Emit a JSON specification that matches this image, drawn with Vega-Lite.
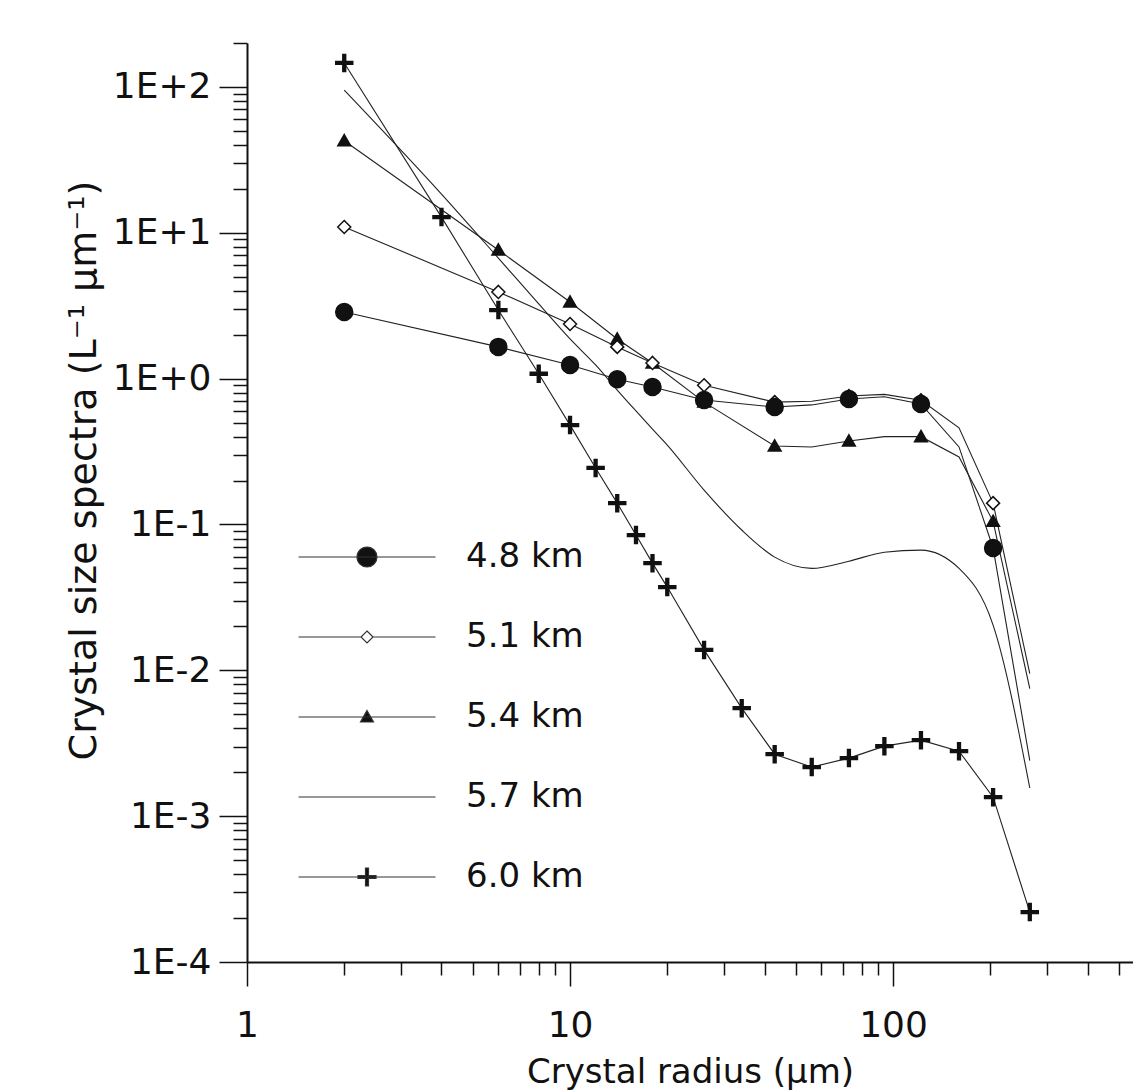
{
  "$schema": "https://vega.github.io/schema/vega-lite/v6.json",
  "width": 886,
  "height": 919,
  "autosize": "none",
  "padding": {"left": 247, "top": 43, "right": 0, "bottom": 129},
  "background": "white",
  "config": {"view": {"stroke": null}, "font": "DejaVu Sans"},
  "data": {
    "values": [
      {"series": "6.0 km", "r": 2, "n": 146, "marker": true},
      {"series": "6.0 km", "r": 4, "n": 12.8, "marker": true},
      {"series": "6.0 km", "r": 6, "n": 2.95, "marker": true},
      {"series": "6.0 km", "r": 8, "n": 1.08, "marker": true},
      {"series": "6.0 km", "r": 10, "n": 0.48, "marker": true},
      {"series": "6.0 km", "r": 12, "n": 0.244, "marker": true},
      {"series": "6.0 km", "r": 14, "n": 0.14, "marker": true},
      {"series": "6.0 km", "r": 16, "n": 0.0846, "marker": true},
      {"series": "6.0 km", "r": 18, "n": 0.0543, "marker": true},
      {"series": "6.0 km", "r": 20, "n": 0.0372, "marker": true},
      {"series": "6.0 km", "r": 26, "n": 0.0138, "marker": true},
      {"series": "6.0 km", "r": 34, "n": 0.0055, "marker": true},
      {"series": "6.0 km", "r": 43, "n": 0.00266, "marker": true},
      {"series": "6.0 km", "r": 56, "n": 0.00217, "marker": true},
      {"series": "6.0 km", "r": 73, "n": 0.0025, "marker": true},
      {"series": "6.0 km", "r": 94, "n": 0.00302, "marker": true},
      {"series": "6.0 km", "r": 122, "n": 0.00332, "marker": true},
      {"series": "6.0 km", "r": 160, "n": 0.00279, "marker": true},
      {"series": "6.0 km", "r": 204, "n": 0.00135, "marker": true},
      {"series": "6.0 km", "r": 265, "n": 0.00022, "marker": true},

      {"series": "5.7 km", "r": 2, "n": 95, "marker": false},
      {"series": "5.7 km", "r": 4, "n": 18.4, "marker": false},
      {"series": "5.7 km", "r": 6, "n": 6.7, "marker": false},
      {"series": "5.7 km", "r": 8, "n": 3.25, "marker": false},
      {"series": "5.7 km", "r": 10, "n": 1.87, "marker": false},
      {"series": "5.7 km", "r": 12, "n": 1.24, "marker": false},
      {"series": "5.7 km", "r": 14, "n": 0.835, "marker": false},
      {"series": "5.7 km", "r": 16, "n": 0.6, "marker": false},
      {"series": "5.7 km", "r": 18, "n": 0.45, "marker": false},
      {"series": "5.7 km", "r": 20, "n": 0.35, "marker": false},
      {"series": "5.7 km", "r": 26, "n": 0.172, "marker": false},
      {"series": "5.7 km", "r": 34, "n": 0.0916, "marker": false},
      {"series": "5.7 km", "r": 43, "n": 0.0597, "marker": false},
      {"series": "5.7 km", "r": 56, "n": 0.05, "marker": false},
      {"series": "5.7 km", "r": 73, "n": 0.056, "marker": false},
      {"series": "5.7 km", "r": 94, "n": 0.0645, "marker": false},
      {"series": "5.7 km", "r": 122, "n": 0.0667, "marker": false},
      {"series": "5.7 km", "r": 160, "n": 0.05, "marker": false},
      {"series": "5.7 km", "r": 204, "n": 0.0204, "marker": false},
      {"series": "5.7 km", "r": 265, "n": 0.00156, "marker": false},

      {"series": "5.4 km", "r": 2, "n": 42.7, "marker": true},
      {"series": "5.4 km", "r": 6, "n": 7.62, "marker": true},
      {"series": "5.4 km", "r": 10, "n": 3.35, "marker": true},
      {"series": "5.4 km", "r": 14, "n": 1.87, "marker": true},
      {"series": "5.4 km", "r": 18, "n": 1.28, "marker": true},
      {"series": "5.4 km", "r": 26, "n": 0.69, "marker": true},
      {"series": "5.4 km", "r": 43, "n": 0.345, "marker": true},
      {"series": "5.4 km", "r": 56, "n": 0.34, "marker": false},
      {"series": "5.4 km", "r": 73, "n": 0.373, "marker": true},
      {"series": "5.4 km", "r": 94, "n": 0.4, "marker": false},
      {"series": "5.4 km", "r": 122, "n": 0.4, "marker": true},
      {"series": "5.4 km", "r": 160, "n": 0.29, "marker": false},
      {"series": "5.4 km", "r": 204, "n": 0.105, "marker": true},
      {"series": "5.4 km", "r": 265, "n": 0.0075, "marker": false},

      {"series": "5.1 km", "r": 2, "n": 10.96, "marker": true},
      {"series": "5.1 km", "r": 6, "n": 3.93, "marker": true},
      {"series": "5.1 km", "r": 10, "n": 2.37, "marker": true},
      {"series": "5.1 km", "r": 14, "n": 1.65, "marker": true},
      {"series": "5.1 km", "r": 18, "n": 1.28, "marker": true},
      {"series": "5.1 km", "r": 26, "n": 0.9, "marker": true},
      {"series": "5.1 km", "r": 43, "n": 0.69, "marker": true},
      {"series": "5.1 km", "r": 56, "n": 0.7, "marker": false},
      {"series": "5.1 km", "r": 73, "n": 0.76, "marker": true},
      {"series": "5.1 km", "r": 94, "n": 0.78, "marker": false},
      {"series": "5.1 km", "r": 122, "n": 0.71, "marker": true},
      {"series": "5.1 km", "r": 160, "n": 0.46, "marker": false},
      {"series": "5.1 km", "r": 204, "n": 0.14, "marker": true},
      {"series": "5.1 km", "r": 265, "n": 0.0095, "marker": false},

      {"series": "4.8 km", "r": 2, "n": 2.86, "marker": true},
      {"series": "4.8 km", "r": 6, "n": 1.65, "marker": true},
      {"series": "4.8 km", "r": 10, "n": 1.24, "marker": true},
      {"series": "4.8 km", "r": 14, "n": 0.99, "marker": true},
      {"series": "4.8 km", "r": 18, "n": 0.875, "marker": true},
      {"series": "4.8 km", "r": 26, "n": 0.713, "marker": true},
      {"series": "4.8 km", "r": 43, "n": 0.638, "marker": true},
      {"series": "4.8 km", "r": 56, "n": 0.66, "marker": false},
      {"series": "4.8 km", "r": 73, "n": 0.724, "marker": true},
      {"series": "4.8 km", "r": 94, "n": 0.75, "marker": false},
      {"series": "4.8 km", "r": 122, "n": 0.67, "marker": true},
      {"series": "4.8 km", "r": 160, "n": 0.34, "marker": false},
      {"series": "4.8 km", "r": 204, "n": 0.069, "marker": true},
      {"series": "4.8 km", "r": 265, "n": 0.0024, "marker": false}
    ]
  },
  "encoding": {
    "x": {
      "field": "r",
      "type": "quantitative",
      "scale": {"type": "log", "domain": [1, 553], "nice": false},
      "axis": {
        "orient": "bottom",
        "title": "Crystal radius (μm)",
        "titleFontSize": 34,
        "titleFontWeight": "normal",
        "titleColor": "#111",
        "titleX": 443,
        "titleY": 127,
        "titleAlign": "center",
        "titleBaseline": "bottom",
        "values": [1,2,3,4,5,6,7,8,9,10,20,30,40,50,60,70,80,90,100,200,300,400,500],
        "grid": false,
        "domainColor": "#111",
        "domainWidth": 2,
        "tickColor": "#111",
        "tickWidth": 1.5,
        "tickSize": {"condition": {"test": "abs(log(datum.value)/LN10 - round(log(datum.value)/LN10)) < 1e-6", "value": 24}, "value": 13},
        "labelExpr": "abs(log(datum.value)/LN10 - round(log(datum.value)/LN10)) < 1e-6 ? format(datum.value, 'd') : ''",
        "labelFontSize": 36,
        "labelColor": "#111",
        "labelPadding": 22,
        "labelFlush": false,
        "labelOverlap": false
      }
    },
    "y": {
      "field": "n",
      "type": "quantitative",
      "scale": {"type": "log", "domain": [0.0001, 200], "nice": false},
      "axis": {
        "orient": "left",
        "title": "Crystal size spectra (L⁻¹ μm⁻¹)",
        "titleFontSize": 38,
        "titleFontWeight": "normal",
        "titleColor": "#111",
        "titleX": -163,
        "titleY": 427,
        "titleAngle": -90,
        "titleAlign": "center",
        "titleBaseline": "middle",
        "values": [0.0001,0.0002,0.0003,0.0004,0.0005,0.0006,0.0007,0.0008,0.0009,0.001,0.002,0.003,0.004,0.005,0.006,0.007,0.008,0.009,0.01,0.02,0.03,0.04,0.05,0.06,0.07,0.08,0.09,0.1,0.2,0.3,0.4,0.5,0.6,0.7,0.8,0.9,1,2,3,4,5,6,7,8,9,10,20,30,40,50,60,70,80,90,100,200],
        "grid": false,
        "domainColor": "#111",
        "domainWidth": 2,
        "tickColor": "#111",
        "tickWidth": 1.5,
        "tickSize": {"condition": {"test": "abs(log(datum.value)/LN10 - round(log(datum.value)/LN10)) < 1e-6", "value": 28}, "value": 14},
        "labelExpr": "abs(log(datum.value)/LN10 - round(log(datum.value)/LN10)) < 1e-6 ? '1E' + (round(log(datum.value)/LN10) >= 0 ? '+' : '-') + abs(round(log(datum.value)/LN10)) : ''",
        "labelFontSize": 36,
        "labelColor": "#111",
        "labelPadding": 8,
        "labelFlush": false,
        "labelOverlap": false
      }
    }
  },
  "layer": [
    {
      "transform": [{"filter": "datum.series != '5.7 km'"}],
      "mark": {"type": "line", "interpolate": "linear", "stroke": "#222", "strokeWidth": 1.1},
      "encoding": {"detail": {"field": "series"}}
    },
    {
      "transform": [{"filter": "datum.series == '5.7 km'"}],
      "mark": {"type": "line", "interpolate": "monotone", "stroke": "#222", "strokeWidth": 1.1},
      "encoding": {"detail": {"field": "series"}}
    },
    {
      "transform": [{"filter": "datum.marker"}],
      "mark": {"type": "point", "filled": true, "stroke": "#111", "strokeWidth": 1.5, "size": 400, "opacity": 1},
      "encoding": {
        "shape": {
          "field": "series",
          "type": "nominal",
          "scale": {
            "domain": ["4.8 km", "5.1 km", "5.4 km", "5.7 km", "6.0 km"],
            "range": [
              "M-0.85,0A0.85,0.85,0,1,1,0.85,0A0.85,0.85,0,1,1,-0.85,0Z",
              "M0,-0.65L0.65,0L0,0.65L-0.65,0Z",
              "M0,-0.62L0.64,0.5L-0.64,0.5Z",
              "M0,0",
              "M-0.85,-0.14H-0.14V-0.85H0.14V-0.14H0.85V0.14H0.14V0.85H-0.14V0.14H-0.85Z"
            ]
          },
          "legend": null
        },
        "fill": {
          "field": "series",
          "type": "nominal",
          "scale": {
            "domain": ["4.8 km", "5.1 km", "5.4 km", "5.7 km", "6.0 km"],
            "range": ["#111", "white", "#111", "white", "#111"]
          },
          "legend": null
        }
      }
    },
    {
      "transform": [{"filter": "datum.marker"}],
      "mark": {"type": "point", "filled": false, "stroke": "#333", "strokeWidth": 1, "size": 400, "opacity": 0},
      "encoding": {
        "shape": {
          "field": "series",
          "type": "nominal",
          "scale": {
            "domain": ["4.8 km", "5.1 km", "5.4 km", "5.7 km", "6.0 km"],
            "range": [
              "M-6.85,0H6.85M-1,0A1,1,0,1,1,1,0A1,1,0,1,1,-1,0Z",
              "M-6.85,0H-0.6M0.6,0H6.85M0,-0.6L0.6,0L0,0.6L-0.6,0Z",
              "M-6.85,0H6.85M0,-0.65L0.65,0.5L-0.65,0.5Z",
              "M-6.85,0H6.85",
              "M-6.85,0H6.85M-0.9,-0.15H-0.15V-0.9H0.15V-0.15H0.9V0.15H0.15V0.9H-0.15V0.15H-0.9Z"
            ]
          },
          "legend": {
            "orient": "none",
            "legendX": 103,
            "legendY": 497,
            "title": null,
            "padding": 0,
            "labelFont": "DejaVu Sans",
            "labelFontSize": 34,
            "labelColor": "#111",
            "labelOffset": 82,
            "rowPadding": 46,
            "symbolSize": 400,
            "symbolStrokeColor": "#333",
            "symbolStrokeWidth": 1,
            "symbolOpacity": 1,
            "encode": {
              "symbols": {
                "update": {
                  "stroke": {"value": "#333"},
                  "strokeWidth": {"value": 1.2},
                  "opacity": {"value": 1}
                }
              }
            }
          }
        },
        "fill": {
          "field": "series",
          "type": "nominal",
          "scale": {
            "domain": ["4.8 km", "5.1 km", "5.4 km", "5.7 km", "6.0 km"],
            "range": ["#111", "white", "#111", "white", "#111"]
          },
          "legend": {
            "orient": "none",
            "legendX": 103,
            "legendY": 497,
            "title": null,
            "padding": 0,
            "labelFont": "DejaVu Sans",
            "labelFontSize": 34,
            "labelColor": "#111",
            "labelOffset": 82,
            "rowPadding": 46,
            "symbolSize": 400,
            "symbolStrokeColor": "#333",
            "symbolStrokeWidth": 1,
            "symbolOpacity": 1,
            "encode": {
              "symbols": {
                "update": {
                  "stroke": {"value": "#333"},
                  "strokeWidth": {"value": 1.2},
                  "opacity": {"value": 1}
                }
              }
            }
          }
        }
      }
    }
  ],
  "resolve": {"scale": {"shape": "independent", "fill": "independent"}}
}
